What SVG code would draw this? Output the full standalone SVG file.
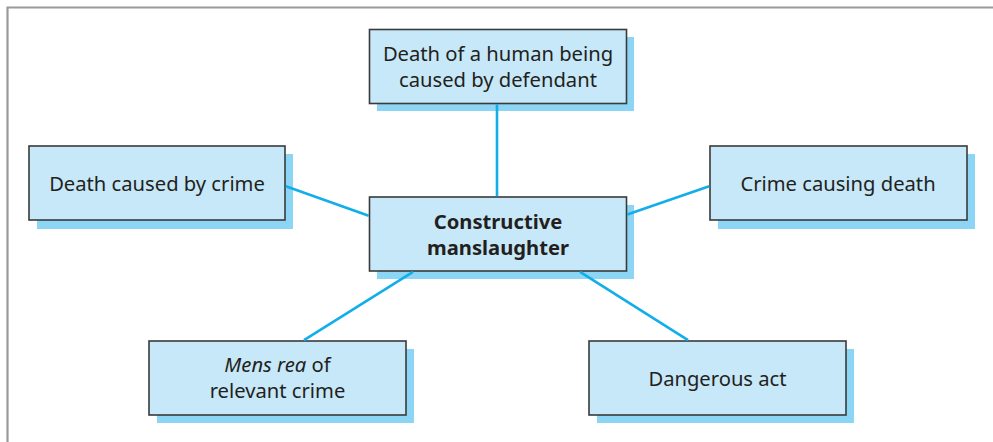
<svg xmlns="http://www.w3.org/2000/svg" width="993" height="442" viewBox="0 0 993 442">
<defs>
<style>
.shadow{fill:#8dd5f4;}
.box{fill:#c7e8f8;stroke:#3a3a3a;stroke-width:1.6;}
.t{font-family:"Noto Sans","Open Sans",sans-serif;font-size:20.2px;fill:#231f20;text-anchor:middle;}
.b{font-weight:bold;}
.conn{stroke:#12aee8;stroke-width:2.6;fill:none;}
</style>
</defs>
<rect x="0" y="0" width="993" height="442" fill="#ffffff"/>
<path d="M7.5,442 V7.5 H993" fill="none" stroke="#9a9a9a" stroke-width="2.2"/>
<g id="top">
<rect class="shadow" x="377" y="37" width="257" height="74"/>
<rect class="box" x="369.5" y="29.5" width="257" height="74"/>
<text class="t" x="498" y="61">Death of a human being</text>
<text class="t" x="498" y="87">caused by defendant</text>
</g>
<g id="left">
<rect class="shadow" x="37" y="154" width="256" height="75"/>
<rect class="box" x="29" y="146" width="256" height="74"/>
<text class="t" x="157" y="191">Death caused by crime</text>
</g>
<g id="center">
<rect class="shadow" x="377" y="205" width="257" height="74"/>
<rect class="box" x="369.5" y="197" width="257" height="74"/>
<text class="t b" x="498" y="229">Constructive</text>
<text class="t b" x="498" y="255">manslaughter</text>
</g>
<g id="right">
<rect class="shadow" x="718" y="154" width="257" height="75"/>
<rect class="box" x="710" y="146" width="257" height="74"/>
<text class="t" x="838" y="191">Crime causing death</text>
</g>
<g id="bottom-left">
<rect class="shadow" x="157" y="349" width="257" height="74"/>
<rect class="box" x="149" y="341" width="257" height="74"/>
<text class="t" x="277.5" y="372"><tspan font-style="italic">Mens rea</tspan> of</text>
<text class="t" x="277.5" y="398">relevant crime</text>
</g>
<g id="bottom-right">
<rect class="shadow" x="597" y="349" width="257" height="74"/>
<rect class="box" x="589" y="341" width="257" height="74"/>
<text class="t" x="717.5" y="386">Dangerous act</text>
</g>
<g id="connectors">
<line class="conn" x1="497" y1="104.3" x2="497" y2="196.2"/>
<line class="conn" x1="285.8" y1="186.3" x2="368.7" y2="215.7"/>
<line class="conn" x1="627.3" y1="214.6" x2="709.2" y2="186.3"/>
<line class="conn" x1="413" y1="271.8" x2="304" y2="340.2"/>
<line class="conn" x1="580" y1="271.8" x2="688" y2="340.2"/>
</g>
</svg>
